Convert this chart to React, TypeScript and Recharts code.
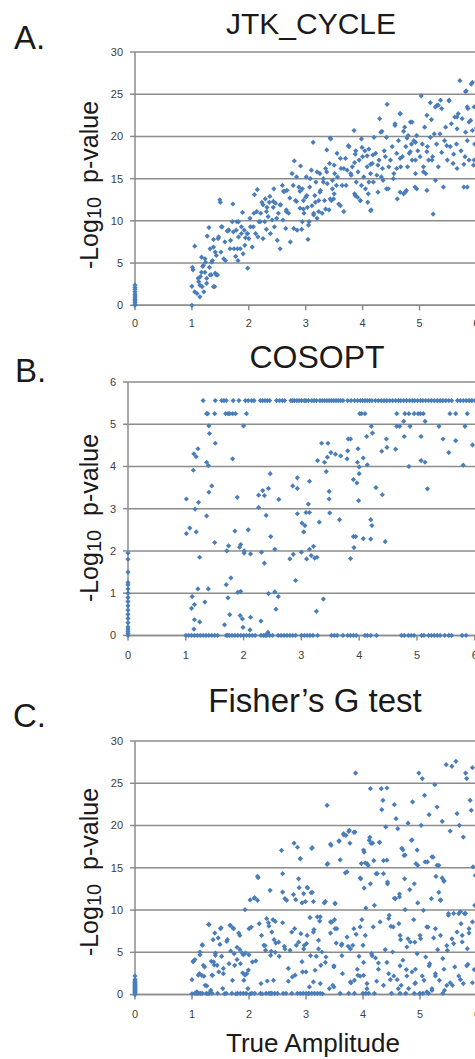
import { ScatterChart, Scatter, XAxis, YAxis, CartesianGrid } from 'recharts'

const BLUE = '#4A7EBB'
const GRID = '#8c8c8c'
const FONT = '"Liberation Sans", Arial, sans-serif'

const xTicks = [0, 1, 2, 3, 4, 5, 6, 7]
const pTicks30 = [0, 5, 10, 15, 20, 25, 30]
const pTicks6 = [0, 1, 2, 3, 4, 5, 6]

// A. JTK_CYCLE
const jtkZeroY = [0, 0.1, 0.3, 0.5, 0.7, 0.9, 1.1, 1.3, 1.6, 1.9, 2.1, 2.4]
const jtkPoints: [number, number][] = [
  [1.0, 0], [1.0, 2.25], [1.01, 4.5], [1.02, 4.2], [1.05, 7.0], [1.09, 1.4], [1.12, 2.8], [1.14, 1.0],
  [1.15, 3.4], [1.17, 5.7], [1.18, 2.2], [1.19, 4.6], [1.21, 1.6], [1.23, 3.9], [1.24, 5.1], [1.26, 2.6],
  [1.27, 8.2], [1.3, 9.2], [1.31, 4.5], [1.34, 3.6], [1.36, 5.3], [1.38, 6.9], [1.38, 7.8], [1.4, 2.2],
  [1.41, 3.8], [1.43, 5.9], [1.45, 3.6], [1.47, 8.1], [1.49, 12.5], [1.5, 12.2], [1.51, 6.3], [1.53, 9.3],
  [1.56, 5.5], [1.59, 5.3], [1.62, 8.8], [1.65, 8.9], [1.68, 7.7], [1.71, 9.9], [1.72, 12.0], [1.74, 6.7],
  [1.77, 5.8], [1.78, 8.9], [1.8, 6.7], [1.81, 5.3], [1.82, 9.9], [1.85, 6.7], [1.87, 8.5], [1.89, 11.0],
  [1.9, 6.1], [1.92, 8.9], [1.94, 8.0], [1.97, 8.5], [1.98, 4.4], [2.0, 7.9], [2.03, 9.3], [2.06, 6.9],
  [2.09, 10.9], [2.1, 13.1], [2.12, 8.5], [2.15, 13.7], [2.16, 8.1], [2.18, 9.9], [2.21, 10.9], [2.23, 12.2],
  [2.25, 7.9], [2.28, 9.9], [2.29, 12.6], [2.31, 9.0], [2.32, 11.6], [2.34, 10.5], [2.36, 12.2], [2.38, 8.5],
  [2.41, 10.1], [2.43, 11.6], [2.44, 13.8], [2.45, 9.3], [2.47, 12.1], [2.5, 7.7], [2.52, 10.9], [2.55, 6.7],
  [2.56, 11.9], [2.59, 14.2], [2.6, 10.1], [2.63, 13.5], [2.65, 9.1], [2.66, 11.3], [2.67, 13.6], [2.7, 10.9],
  [2.73, 7.5], [2.76, 15.6], [2.79, 9.1], [2.8, 17.1], [2.82, 12.4], [2.84, 15.2], [2.85, 8.9], [2.88, 14.0],
  [2.9, 11.5], [2.91, 16.5], [2.93, 9.0], [2.94, 13.8], [2.96, 12.4], [2.97, 10.9], [3.0, 12.8], [3.01, 15.2],
  [3.03, 11.6], [3.04, 7.8], [3.06, 9.9], [3.07, 14.0], [3.1, 16.0], [3.11, 11.8], [3.13, 19.3], [3.14, 10.9],
  [3.16, 13.0], [3.18, 14.6], [3.2, 10.3], [3.23, 12.4], [3.25, 15.6], [3.26, 13.6], [3.29, 10.9], [3.31, 15.0],
  [3.33, 12.4], [3.35, 16.2], [3.38, 14.4], [3.41, 11.3], [3.42, 16.8], [3.44, 19.7], [3.45, 12.4], [3.47, 14.8],
  [3.5, 13.2], [3.51, 15.6], [3.54, 14.2], [3.55, 18.0], [3.58, 12.0], [3.61, 17.4], [3.64, 14.2], [3.67, 16.2],
  [3.7, 17.4], [3.73, 16.0], [3.76, 18.8], [3.79, 15.6], [3.82, 16.4], [3.85, 20.7], [3.86, 13.2], [3.88, 18.3],
  [3.89, 14.6], [3.91, 12.8], [3.94, 17.2], [3.96, 12.4], [3.98, 19.7], [4.0, 17.6], [4.02, 15.2], [4.04, 18.3],
  [4.05, 13.8], [4.08, 16.4], [4.09, 12.2], [4.11, 18.5], [4.14, 15.6], [4.15, 11.3], [4.17, 16.8], [4.19, 14.6],
  [4.2, 19.9], [4.23, 18.0], [4.25, 15.4], [4.27, 13.4], [4.29, 17.2], [4.3, 22.1], [4.32, 20.5], [4.35, 16.2],
  [4.36, 14.8], [4.38, 18.3], [4.4, 17.6], [4.42, 19.9], [4.43, 23.8], [4.45, 13.8], [4.46, 16.4], [4.49, 17.2],
  [4.52, 18.8], [4.55, 15.6], [4.57, 21.5], [4.6, 18.0], [4.61, 12.6], [4.63, 19.5], [4.66, 22.7], [4.67, 16.4],
  [4.7, 17.6], [4.72, 13.2], [4.74, 21.1], [4.76, 18.8], [4.77, 13.6], [4.79, 16.4], [4.8, 20.1], [4.82, 18.0],
  [4.84, 21.7], [4.86, 19.1], [4.87, 17.2], [4.9, 19.5], [4.92, 14.0], [4.93, 15.6], [4.95, 20.1], [4.97, 18.3],
  [5.01, 17.6], [5.03, 24.8], [5.05, 19.1], [5.07, 16.4], [5.09, 21.1], [5.11, 15.6], [5.13, 13.6], [5.14, 18.8],
  [5.16, 17.2], [5.19, 19.9], [5.21, 22.0], [5.23, 17.6], [5.24, 10.8], [5.26, 20.3], [5.28, 14.8], [5.3, 19.1],
  [5.31, 23.7], [5.33, 16.4], [5.36, 20.3], [5.37, 24.3], [5.39, 18.1], [5.42, 14.0], [5.44, 19.5], [5.46, 21.1],
  [5.49, 17.2], [5.52, 24.3], [5.54, 18.8], [5.56, 21.5], [5.59, 16.8], [5.62, 22.3], [5.65, 19.1], [5.68, 22.7],
  [5.71, 26.6], [5.73, 18.3], [5.75, 22.1], [5.78, 14.0], [5.8, 17.6], [5.82, 25.4], [5.84, 19.5], [5.85, 23.3],
  [5.87, 17.2], [5.9, 21.9], [5.91, 26.2], [5.93, 20.7], [5.95, 16.6], [5.96, 23.5], [5.97, 19.1], [6.0, 21.0],
]
const jtkMore: [number, number][] = [
  [1.05, 1.6], [1.11, 3.2], [1.14, 2.4], [1.17, 3.9], [1.2, 4.7], [1.23, 5.5], [1.26, 3.2], [1.32, 3.6],
  [1.35, 5.1], [1.38, 2.2], [1.41, 6.3], [1.43, 3.6], [1.32, 6.7], [1.46, 7.9], [1.52, 9.3], [1.58, 7.5],
  [1.64, 8.9], [1.67, 6.7], [1.73, 8.7], [1.79, 9.9], [1.82, 8.1], [1.87, 9.3], [1.93, 7.1], [1.98, 8.5],
  [2.02, 10.3], [2.08, 9.3], [2.14, 11.1], [2.2, 9.9], [2.25, 11.9], [2.31, 11.1], [2.37, 12.9], [2.43, 12.3],
  [2.49, 10.3], [2.55, 11.9], [2.61, 13.5], [2.66, 11.1], [2.72, 12.7], [2.78, 14.2], [2.84, 12.3], [2.9, 13.5],
  [3.37, 18.4], [3.43, 19.8], [3.75, 18.9], [3.87, 17.9], [3.99, 18.7], [4.08, 17.7], [4.14, 16.7], [4.34, 20.6],
  [4.57, 21.3], [4.66, 22.7], [4.72, 20.6], [4.78, 19.8], [4.87, 21.7], [4.93, 19.3], [5.13, 22.5], [5.19, 24.0],
  [5.28, 23.5], [5.33, 23.7], [5.39, 23.3], [5.52, 24.2], [5.81, 25.3], [5.93, 26.4], [5.66, 22.3], [5.84, 23.5],
  [5.87, 21.7], [5.66, 20.9], [5.81, 20.5], [5.48, 18.9], [5.6, 17.9], [5.66, 16.2], [5.78, 16.7], [5.84, 14.0],
  [5.96, 17.2], [5.13, 18.2], [5.22, 17.2], [5.07, 15.8], [4.95, 13.8], [4.93, 17.2], [4.84, 18.2], [4.66, 17.4],
  [4.6, 16.2], [4.54, 15.0], [4.66, 13.4], [4.75, 13.4], [4.42, 13.8], [4.33, 15.2], [4.27, 16.6], [4.18, 17.8],
  [4.11, 14.6], [4.14, 11.2], [3.98, 14.2], [3.92, 15.8], [3.86, 16.9], [3.8, 15.4], [3.71, 14.2], [3.62, 16.2],
  [3.56, 15.2], [3.5, 16.6], [3.47, 13.8], [3.43, 12.6], [3.37, 15.8], [3.31, 14.6], [3.25, 13.4], [3.2, 15.8],
  [3.17, 12.2], [3.08, 15.0], [3.02, 13.0], [2.96, 11.4], [2.94, 9.9], [3.05, 9.5], [3.14, 10.7], [3.23, 11.1],
  [3.35, 11.4], [3.49, 12.6], [3.61, 11.8], [3.67, 11.1], [3.87, 13.0], [3.96, 12.4], [4.1, 13.2],
]

// B. COSOPT
const cosZeroY = [0, 0.05, 0.1, 0.15, 0.2, 0.3, 0.4, 0.5, 0.6, 0.7, 0.8, 0.9, 1.0, 1.1, 1.2, 1.25, 1.5, 1.8, 1.95]
const cosTopX = [
  1.3, 1.51, 1.62, 1.66, 1.7, 1.82, 1.92, 2.03, 2.08, 2.14, 2.18, 2.29, 2.33, 2.37, 2.41, 2.45, 2.57, 2.62, 2.67, 2.71,
  2.82, 2.85, 2.88, 2.92, 2.96, 3.0, 3.05, 3.08, 3.12, 3.18, 3.22, 3.26, 3.32, 3.36, 3.4, 3.44, 3.48, 3.52, 3.56, 3.6,
  3.64, 3.68, 3.72, 3.8, 3.86, 3.92, 3.97, 4.02, 4.06, 4.1, 4.14, 4.18, 4.22, 4.28, 4.33, 4.38, 4.43, 4.48, 4.53, 4.58,
  4.63, 4.68, 4.72, 4.77, 4.82, 4.87, 4.92, 4.96, 5.01, 5.06, 5.1, 5.15, 5.2, 5.25, 5.3, 5.35, 5.4, 5.45, 5.5, 5.55,
  5.6, 5.7, 5.75, 5.8, 5.85, 5.9, 5.95, 6.0,
]
const cosUpperX = [1.36, 1.38, 1.5, 1.69, 1.73, 1.76, 1.81, 1.86, 2.05, 4.01, 4.04, 4.1, 4.65, 4.79, 4.86, 4.95, 5.02, 5.06, 5.11, 5.57, 5.67, 5.87]
const cosFloorX = [
  1.0, 1.05, 1.1, 1.15, 1.2, 1.25, 1.3, 1.35, 1.4, 1.45, 1.5, 1.55, 1.7, 1.72, 1.75, 1.8, 1.85, 1.9, 1.95, 2.0,
  2.05, 2.1, 2.15, 2.2, 2.3, 2.35, 2.38, 2.4, 2.45, 2.5, 2.6, 2.65, 2.7, 2.75, 2.8, 2.85, 2.9, 3.0, 3.05, 3.1,
  3.15, 3.2, 3.28, 3.52, 3.57, 3.62, 3.72, 3.8, 3.85, 3.9, 3.95, 4.1, 4.14, 4.2, 4.3, 4.73, 4.78, 4.85, 4.9, 4.95,
  5.08, 5.12, 5.2, 5.25, 5.3, 5.35, 5.4, 5.48, 5.55, 5.6, 5.78, 5.85,
]
const cosPoints: [number, number][] = [
  [1.01, 3.23], [1.01, 2.41], [1.07, 2.54], [1.1, 0.64], [1.11, 0.92], [1.13, 3.91], [1.14, 4.3], [1.14, 0.15],
  [1.15, 0.73], [1.16, 2.99], [1.18, 4.23], [1.18, 2.45], [1.21, 4.42], [1.21, 1.1], [1.22, 3.15], [1.24, 1.85],
  [1.24, 0.32], [1.15, 0.37], [1.33, 0.79], [1.36, 2.83], [1.36, 4.1], [1.39, 4.02], [1.39, 1.1], [1.4, 4.96],
  [1.4, 3.39], [1.41, 4.78], [1.45, 3.54], [1.5, 2.2], [1.51, 4.55], [1.67, 0.25], [1.7, 1.2], [1.71, 2.0],
  [1.73, 0.89], [1.74, 2.12], [1.76, 0.49], [1.78, 1.36], [1.81, 4.18], [1.85, 2.47], [1.89, 3.27], [1.9, 1.02],
  [1.93, 2.09], [1.94, 0.47], [1.95, 2.15], [1.95, 1.04], [1.98, 0.39], [1.99, 0.19], [2.0, 4.96], [2.01, 2.0],
  [2.01, 1.95], [2.08, 2.5], [2.11, 0.13], [2.12, 0.43], [2.12, 1.93], [2.26, 3.32], [2.26, 3.03], [2.3, 0.34],
  [2.31, 1.97], [2.33, 3.43], [2.36, 1.71], [2.36, 3.31], [2.39, 2.84], [2.42, 0.07], [2.43, 3.48], [2.43, 0.99],
  [2.46, 3.83], [2.47, 2.34], [2.54, 2.04], [2.54, 1.03], [2.56, 0.62], [2.6, 0.92], [2.61, 3.22], [2.8, 1.81],
  [2.85, 3.54], [2.86, 1.92], [2.9, 1.3], [2.93, 2.88], [2.93, 3.73], [2.93, 3.48], [3.0, 1.97], [3.01, 2.66],
  [3.04, 2.45], [3.06, 2.6], [3.08, 2.91], [3.09, 1.81], [3.12, 3.11], [3.14, 3.65], [3.14, 2.91], [3.14, 2.04],
  [3.17, 1.89], [3.21, 2.11], [3.23, 1.83], [3.26, 0.57], [3.27, 1.85], [3.28, 4.14], [3.31, 2.68], [3.35, 4.55],
  [3.38, 0.86], [3.4, 4.1], [3.43, 3.88], [3.45, 4.22], [3.46, 4.55], [3.48, 3.41], [3.48, 3.23], [3.49, 2.9],
  [3.51, 4.33], [3.59, 4.29], [3.66, 2.74], [3.68, 4.25], [3.79, 4.18], [3.8, 4.37], [3.81, 4.65], [3.85, 4.65],
  [3.85, 1.82], [3.9, 3.69], [3.9, 2.34], [3.91, 2.08], [3.94, 2.34], [3.96, 3.61], [3.97, 4.1], [3.98, 4.42],
  [3.99, 3.19], [4.0, 3.83], [4.0, 3.99], [4.07, 2.29], [4.07, 4.2], [4.13, 4.71], [4.14, 4.04], [4.2, 2.74],
  [4.2, 2.28], [4.22, 2.6], [4.23, 4.79], [4.21, 4.95], [4.29, 3.5], [4.39, 4.36], [4.4, 3.33], [4.45, 2.22],
  [4.47, 4.65], [4.48, 4.45], [4.63, 4.41], [4.65, 4.95], [4.7, 4.95], [4.78, 4.71], [4.77, 5.07], [4.86, 4.0],
  [4.88, 4.95], [5.07, 4.71], [5.07, 4.14], [5.14, 4.1], [5.14, 5.07], [5.18, 3.47], [5.38, 4.95], [5.45, 4.65],
  [5.55, 4.33], [5.67, 4.61], [5.8, 4.03], [5.83, 4.95], [5.96, 4.51],
]

// C. Fisher's G test
const fisZeroY = [0, 0.1, 0.2, 0.3, 0.4, 0.5, 0.6, 0.7, 0.8, 0.9, 1.0, 1.1, 1.2, 1.3, 1.4, 1.5, 1.6, 1.8, 2.2]
const fisFloorX = [
  1.05, 1.08, 1.1, 1.12, 1.15, 1.18, 1.25, 1.3, 1.35, 1.45, 1.6, 1.7, 1.8, 1.85, 1.9, 1.95, 2.05, 2.1, 2.2, 2.3,
  2.35, 2.38, 2.4, 2.45, 2.5, 2.6, 2.65, 2.75, 2.85, 2.9, 2.95, 3.0, 3.05, 3.1, 3.15, 3.2, 3.25, 3.6, 3.75, 3.85,
  4.0, 4.05, 4.1, 4.2, 4.5, 4.65, 4.75, 4.9, 5.0, 5.05, 5.15, 5.4,
]
const fisPoints: [number, number][] = [
  [1.0, 1.77], [1.02, 3.94], [1.05, 4.14], [1.0, 0.1], [1.09, 0.3], [1.13, 2.48], [1.14, 5.04], [1.17, 2.28],
  [1.18, 5.83], [1.2, 3.46], [1.21, 2.17], [1.22, 3.27], [1.26, 1.02], [1.28, 0.1], [1.3, 8.27], [1.33, 0.5],
  [1.34, 3.94], [1.36, 2.28], [1.37, 6.5], [1.38, 3.86], [1.4, 7.28], [1.41, 4.65], [1.44, 3.46], [1.47, 2.68],
  [1.49, 5.94], [1.5, 7.8], [1.52, 4.53], [1.54, 0.71], [1.55, 2.48], [1.57, 0.1], [1.62, 6.5], [1.65, 3.66],
  [1.67, 8.19], [1.68, 5.16], [1.71, 1.69], [1.72, 7.88], [1.74, 4.84], [1.75, 3.46], [1.77, 0.1], [1.79, 4.14],
  [1.82, 7.28], [1.84, 5.31], [1.85, 3.66], [1.88, 4.92], [1.89, 2.56], [1.91, 1.69], [1.93, 10.05], [1.94, 4.92],
  [1.96, 2.48], [1.98, 0.71], [2.0, 7.8], [2.02, 0.1], [2.04, 7.99], [2.06, 3.86], [2.1, 11.47], [2.12, 3.98],
  [2.15, 11.15], [2.16, 13.82], [2.18, 8.39], [2.21, 1.3], [2.23, 0.1], [2.26, 5.83], [2.29, 5.24], [2.31, 8.98],
  [2.32, 1.61], [2.35, 8.11], [2.37, 12.34], [2.38, 4.65], [2.39, 5.12], [2.42, 8.86], [2.43, 1.69], [2.44, 6.5],
  [2.46, 8.66], [2.47, 6.1], [2.53, 4.53], [2.57, 17.05], [2.59, 12.13], [2.59, 14.3], [2.62, 5.71], [2.63, 11.35],
  [2.66, 11.15], [2.69, 1.58], [2.72, 5.24], [2.76, 2.09], [2.78, 11.83], [2.79, 17.91], [2.8, 7.8], [2.82, 11.23],
  [2.83, 5.83], [2.85, 17.43], [2.87, 13.7], [2.88, 12.65], [2.9, 16.06], [2.91, 7.21], [2.93, 10.84], [2.94, 2.68],
  [2.96, 11.94], [2.97, 5.83], [3.0, 2.68], [3.01, 6.03], [3.03, 12.61], [3.04, 0.1], [3.06, 0.91], [3.07, 9.11],
  [3.09, 12.06], [3.11, 17.38], [3.13, 1.5], [3.14, 7.69], [3.16, 2.88], [3.18, 4.53], [3.2, 9.19], [3.22, 6.42],
  [3.24, 8.7], [3.26, 3.46], [3.28, 5.04], [3.29, 0.1], [3.32, 10.84], [3.35, 4.45], [3.37, 22.39], [3.38, 15.49],
  [3.41, 0.71], [3.43, 7.28], [3.44, 17.66], [3.45, 8.58], [3.47, 1.1], [3.49, 3.27], [3.5, 8.86], [3.51, 10.76],
  [3.53, 6.1], [3.54, 7.8], [3.58, 18.13], [3.6, 15.94], [3.62, 5.83], [3.64, 2.48], [3.66, 19.04], [3.7, 18.84],
  [3.72, 14.51], [3.74, 5.71], [3.76, 19.43], [3.77, 17.91], [3.79, 1.38], [3.82, 5.83], [3.85, 1.69], [3.86, 19.23],
  [3.87, 26.21], [3.88, 7.13], [3.91, 2.28], [3.93, 4.53], [3.95, 2.17], [3.96, 13.7], [3.98, 8.86], [4.0, 5.83],
  [4.01, 2.28], [4.02, 16.85], [4.04, 15.57], [4.05, 10.24], [4.07, 1.3], [4.09, 15.29], [4.11, 18.25], [4.13, 24.36],
  [4.15, 4.84], [4.17, 17.91], [4.19, 15.85], [4.2, 10.56], [4.22, 4.33], [4.24, 1.58], [4.25, 14.3], [4.27, 3.74],
  [4.29, 18.02], [4.32, 24.36], [4.33, 21.88], [4.35, 22.98], [4.36, 15.85], [4.39, 5.31], [4.4, 19.83], [4.42, 24.44],
  [4.43, 13.31], [4.45, 2.48], [4.46, 9.38], [4.48, 1.77], [4.49, 8.07], [4.52, 5.04], [4.55, 22.47], [4.57, 11.35],
  [4.58, 20.81], [4.6, 1.77], [4.61, 19.63], [4.63, 8.39], [4.64, 11.55], [4.66, 6.5], [4.67, 1.1], [4.7, 17.13],
  [4.7, 4.06], [4.72, 16.46], [4.73, 13.7], [4.74, 10.05], [4.76, 2.96], [4.77, 5.63], [4.79, 20.28], [4.8, 0.71],
  [4.82, 12.42], [4.83, 6.22], [4.85, 18.25], [4.86, 2.68], [4.87, 22.79], [4.89, 8.86], [4.9, 13.11], [4.92, 1.38],
  [4.93, 15.49], [4.95, 4.84], [4.96, 10.84], [4.98, 26.21], [4.99, 0.1], [5.01, 6.62], [5.02, 20.02], [5.04, 25.55],
  [5.06, 9.97], [5.07, 1.69], [5.08, 23.57], [5.1, 4.45], [5.12, 0.31], [5.13, 15.69], [5.14, 7.99], [5.16, 21.29],
  [5.17, 3.66], [5.2, 11.35], [5.21, 0.51], [5.23, 16.26], [5.24, 6.7], [5.26, 24.83], [5.27, 2.48], [5.28, 13.98],
  [5.3, 22.19], [5.31, 5.31], [5.33, 15.29], [5.34, 1.69], [5.36, 11.15], [5.39, 20.5], [5.4, 4.26], [5.42, 13.5],
  [5.43, 0.51], [5.46, 27.2], [5.48, 5.24], [5.5, 9.58], [5.53, 19.35], [5.56, 27.0], [5.57, 1.1], [5.59, 6.03],
  [5.61, 3.27], [5.63, 27.59], [5.65, 21.41], [5.68, 9.58], [5.69, 20.02], [5.71, 1.77], [5.72, 8.39], [5.74, 6.22],
  [5.76, 18.64], [5.78, 9.58], [5.8, 26.21], [5.82, 25.55], [5.83, 5.43], [5.84, 3.58], [5.86, 7.28], [5.88, 22.98],
  [5.9, 21.8], [5.92, 26.84], [5.93, 15.1], [5.95, 2.96], [5.96, 10.56], [5.97, 14.1],
]
const fisMore: [number, number][] = [
  [1.02, 3.9], [1.08, 0.3], [1.11, 2.3], [1.14, 4.7], [1.18, 5.9], [1.23, 1.1], [1.29, 8.3], [1.35, 2.3],
  [1.39, 3.5], [1.41, 4.9], [1.46, 6.7], [1.51, 7.9], [1.55, 3.1], [1.61, 6.3], [1.67, 8.2], [1.73, 7.8],
  [1.79, 5.6], [1.84, 7.0], [1.9, 4.7], [1.93, 2.3], [1.99, 2.9], [2.0, 4.7], [2.02, 11.2], [2.09, 11.4],
  [2.15, 14.0], [2.22, 7.0], [2.28, 5.8], [2.34, 8.5], [2.4, 7.4], [2.46, 5.0], [2.52, 6.2], [2.59, 8.5],
  [2.63, 5.4], [2.69, 3.1], [2.75, 7.4], [2.81, 2.3], [2.87, 6.2], [2.93, 3.9],
  [3.02, 12.7], [3.11, 12.1], [2.99, 11.0], [3.13, 11.0], [3.34, 11.0], [3.51, 10.8], [2.9, 16.1], [3.1, 17.3],
  [3.43, 17.8], [3.58, 18.2], [3.66, 18.9], [3.75, 19.3], [3.84, 19.2], [3.37, 15.4], [3.69, 14.4], [3.95, 13.8],
  [4.02, 12.6], [4.13, 13.1], [4.23, 14.3], [4.36, 14.3], [4.43, 13.1], [4.01, 17.1], [4.14, 17.9], [4.29, 18.0],
  [4.12, 18.6], [4.07, 15.5], [3.97, 15.5], [4.42, 15.9], [4.55, 11.4], [4.64, 11.9], [4.68, 17.3], [4.74, 16.5],
  [4.86, 18.3], [4.95, 17.1], [4.96, 15.3], [5.09, 15.7], [5.21, 16.3], [5.3, 15.3], [5.39, 13.8], [5.42, 13.4],
  [5.33, 12.1], [5.36, 11.2], [5.5, 9.4], [5.59, 9.6], [5.71, 9.8], [5.8, 9.6], [5.92, 8.6], [5.86, 7.8],
  [5.74, 7.0], [5.65, 7.4], [5.56, 6.6], [5.47, 5.8], [5.36, 7.0], [5.27, 7.8], [5.12, 8.0], [5.0, 7.0],
  [4.91, 6.2], [4.79, 6.6], [4.65, 7.0], [4.53, 8.0], [4.45, 9.0], [4.3, 8.6], [4.18, 8.0], [4.04, 7.0],
  [3.95, 8.0], [3.84, 7.8], [3.72, 6.8], [3.63, 6.0], [3.51, 7.8], [3.43, 8.6], [3.25, 9.2], [3.13, 7.4],
  [3.02, 7.0], [2.96, 5.4], [3.08, 4.6], [3.22, 5.4], [3.34, 3.8], [3.49, 3.4], [3.63, 4.6], [3.78, 5.4],
  [3.9, 3.0], [4.01, 3.8], [4.16, 4.6], [4.27, 3.0], [4.42, 3.8], [4.54, 2.2], [4.65, 3.4], [4.77, 2.2],
  [4.92, 3.0], [5.04, 2.2], [5.16, 3.4], [5.27, 2.2], [5.42, 3.0], [5.53, 1.4], [5.68, 2.2], [5.82, 3.4],
  [5.92, 1.4], [3.25, 1.3], [3.49, 0.9], [3.78, 1.5], [4.07, 0.7], [4.36, 1.1], [4.62, 0.7], [4.91, 1.3],
  [5.21, 0.7], [5.47, 1.1], [5.76, 1.3],
]

const pairs = (arr: [number, number][]) => arr.map(([x, y]) => ({ x, y }))
const column = (ys: number[]) => ys.map((y) => ({ x: 0, y }))
const row = (xs: number[], y: number) => xs.map((x) => ({ x, y }))

const jtkData = [...column(jtkZeroY), ...pairs(jtkPoints), ...pairs(jtkMore)]
const cosData = [
  ...column(cosZeroY),
  ...row(cosTopX, 5.56),
  ...row(cosUpperX, 5.25),
  ...row(cosFloorX, 0),
  ...pairs(cosPoints),
]
const fisData = [...column(fisZeroY), ...row(fisFloorX, 0.15), ...pairs(fisPoints), ...pairs(fisMore)]

function Diamond(props: any) {
  const { cx, cy } = props
  if (cx == null || cy == null) return null
  const r = 2.6
  return <polygon points={`${cx},${cy - r} ${cx + r},${cy} ${cx},${cy + r} ${cx - r},${cy}`} fill={BLUE} />
}

interface PanelProps {
  data: { x: number; y: number }[]
  plotLeft: number
  plotTop: number
  plotBottom: number
  unit: number
  yMax: number
  yTicks: number[]
  xTickMargin: number
}

function Panel({ data, plotLeft, plotTop, plotBottom, unit, yMax, yTicks, xTickMargin }: PanelProps) {
  const yAxisW = 50
  const mTop = 10
  const xAxisH = 34
  const width = yAxisW + unit * 7
  const height = mTop + (plotBottom - plotTop) + xAxisH
  return (
    <div style={{ position: 'absolute', left: plotLeft - yAxisW, top: plotTop - mTop }}>
      <ScatterChart width={width} height={height} margin={{ top: mTop, right: 0, bottom: 0, left: 0 }}>
        <CartesianGrid vertical={false} stroke={GRID} strokeWidth={1.5} />
        <XAxis
          type="number"
          dataKey="x"
          domain={[0, 7]}
          ticks={xTicks}
          interval={0}
          height={xAxisH}
          tickSize={5}
          tickMargin={xTickMargin}
          axisLine={{ stroke: GRID, strokeWidth: 1.5 }}
          tickLine={{ stroke: GRID, strokeWidth: 1.5 }}
          tick={{ fill: '#404040', fontSize: 11, fontFamily: FONT }}
        />
        <YAxis
          type="number"
          dataKey="y"
          domain={[0, yMax]}
          ticks={yTicks}
          interval={0}
          width={yAxisW}
          tickSize={5}
          tickMargin={7}
          axisLine={{ stroke: GRID, strokeWidth: 1.5 }}
          tickLine={{ stroke: GRID, strokeWidth: 1.5 }}
          tick={{ fill: '#404040', fontSize: 11, fontFamily: FONT }}
        />
        <Scatter data={data} shape={Diamond} isAnimationActive={false} />
      </ScatterChart>
    </div>
  )
}

function Text({ children, left, top, size, width, center }: any) {
  return (
    <div
      style={{
        position: 'absolute',
        left: center ? left - width / 2 : left,
        top,
        width: width,
        fontSize: size,
        lineHeight: 1,
        textAlign: center ? 'center' : 'left',
        color: '#1a1a1a',
        fontFamily: FONT,
        whiteSpace: 'nowrap',
      }}
    >
      {children}
    </div>
  )
}

function YLabel({ cx, cy }: { cx: number; cy: number }) {
  return (
    <div
      style={{
        position: 'absolute',
        left: cx - 130,
        top: cy - 15,
        width: 260,
        height: 30,
        lineHeight: '30px',
        textAlign: 'center',
        transform: 'rotate(-90deg)',
        fontSize: 25,
        fontFamily: FONT,
        color: '#1a1a1a',
        whiteSpace: 'pre',
      }}
    >
      -Log<span style={{ fontSize: 20, position: 'relative', top: 3 }}>10</span>{'  '}p-value
    </div>
  )
}

export default function App() {
  return (
    <div style={{ position: 'absolute', left: 0, top: 0, width: 475, height: 1059, overflow: 'hidden', background: '#fff' }}>
      <Text left={14} top={21} size={33}>A.</Text>
      <Text left={311} top={8.5} size={30} width={260} center>JTK_CYCLE</Text>
      <YLabel cx={89} cy={185} />
      <Panel data={jtkData} plotLeft={134.7} plotTop={51.7} plotBottom={305} unit={56.9} yMax={30} yTicks={pTicks30} xTickMargin={9} />

      <Text left={15} top={354} size={33}>B.</Text>
      <Text left={317} top={341} size={32} width={260} center>COSOPT</Text>
      <YLabel cx={89} cy={518} />
      <Panel data={cosData} plotLeft={128.3} plotTop={382.3} plotBottom={635.7} unit={57.8} yMax={6} yTicks={pTicks6} xTickMargin={11} />

      <Text left={13} top={699} size={33}>C.</Text>
      <Text left={315} top={684} size={33} width={300} center>Fisher’s G test</Text>
      <YLabel cx={89} cy={872} />
      <Panel data={fisData} plotLeft={134.7} plotTop={740.7} plotBottom={994.3} unit={57} yMax={30} yTicks={pTicks30} xTickMargin={11} />
      <Text left={313} top={1030} size={26} width={300} center>True Amplitude</Text>
    </div>
  )
}
